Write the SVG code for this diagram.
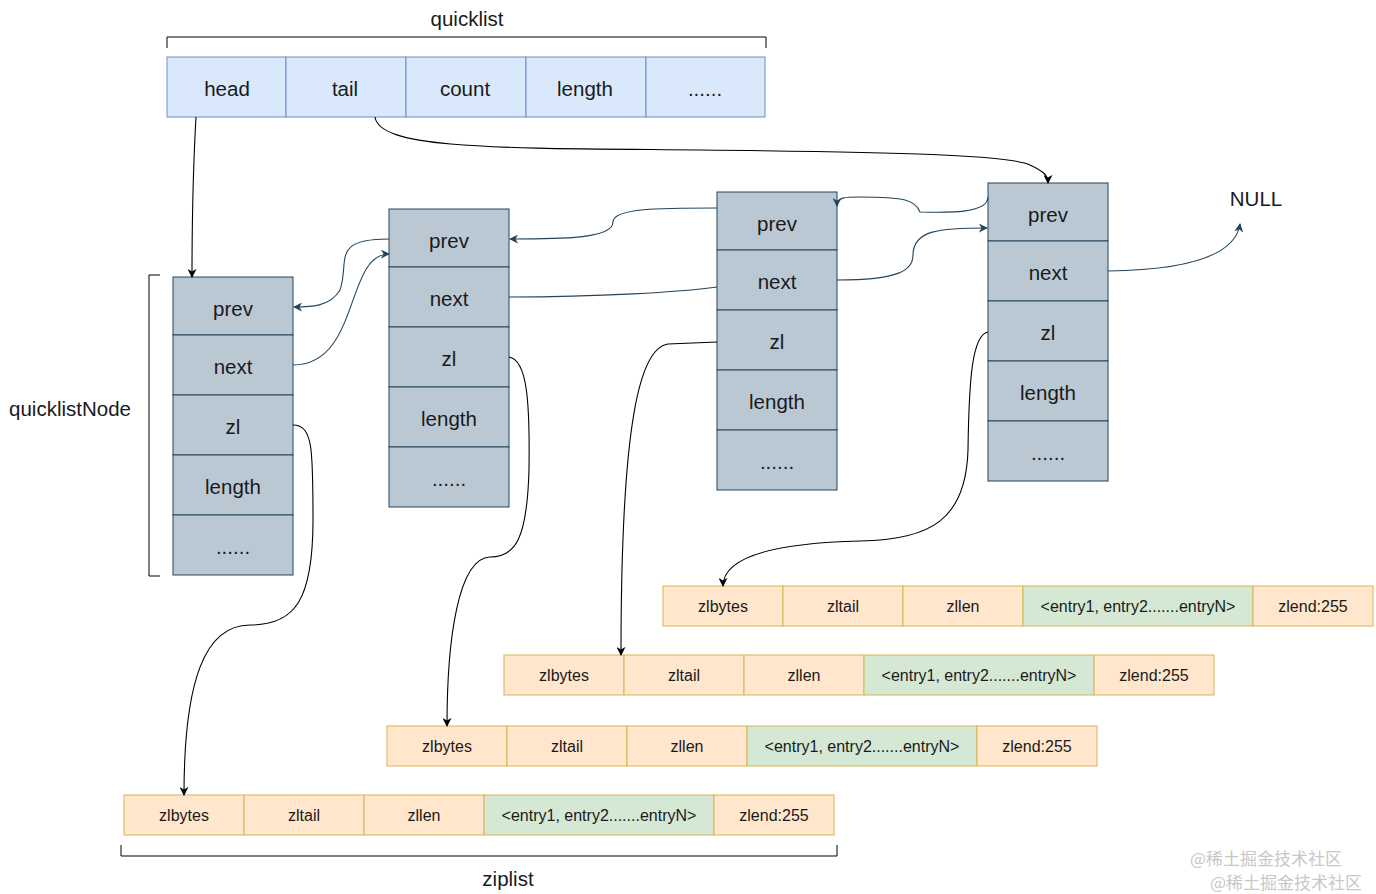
<svg xmlns="http://www.w3.org/2000/svg" width="1376" height="894" viewBox="0 0 1376 894">
<defs>
<marker id="ab" viewBox="0 0 10 10" refX="9" refY="5" markerWidth="9" markerHeight="9" markerUnits="userSpaceOnUse" orient="auto"><path d="M0,0 L10,5 L0,10 L3,5 Z" fill="#000"/></marker>
<marker id="ad" viewBox="0 0 10 10" refX="9" refY="5" markerWidth="9" markerHeight="9" markerUnits="userSpaceOnUse" orient="auto"><path d="M0,0 L10,5 L0,10 L3,5 Z" fill="#23445d"/></marker>
</defs>
<style>
text{font-family:"Liberation Sans",Arial,sans-serif;fill:#1a1a1a;text-anchor:middle;dominant-baseline:central}
.q{fill:#dae8fc;stroke:#6c8ebf;stroke-width:1}
.n{fill:#bac8d3;stroke:#23445d;stroke-width:1}
.z{fill:#ffe6cc;stroke:#d6b656;stroke-width:1}
.e{fill:#d5e8d4;stroke:#d6b656;stroke-width:1}
.t{font-size:20.5px}
.s{font-size:16px}
.br{fill:none;stroke:#000;stroke-width:1}
.cb{fill:none;stroke:#000;stroke-width:1.1}
.cd{fill:none;stroke:#23445d;stroke-width:1.1}
.wm{font-family:"Noto Sans CJK SC","Liberation Sans",sans-serif;font-size:17px;fill:#c8c8c8;text-anchor:start}
</style>
<rect width="1376" height="894" fill="#fff"/>

<g id="quicklist">
<text x="467" y="18" class="t">quicklist</text>
<path class="br" d="M167,48 V37 H766 V48"/>
<rect class="q" x="167" y="57" width="119" height="60"/>
<rect class="q" x="286" y="57" width="120" height="60"/>
<rect class="q" x="406" y="57" width="120" height="60"/>
<rect class="q" x="526" y="57" width="120" height="60"/>
<rect class="q" x="646" y="57" width="119" height="60"/>
<text x="227" y="88" class="t">head</text>
<text x="345" y="88" class="t">tail</text>
<text x="465" y="88" class="t">count</text>
<text x="585" y="88" class="t">length</text>
<text x="705" y="88" class="t">......</text>
</g>

<g id="node1">
<path class="br" d="M160,275 H149 V576 H160"/>
<text x="70" y="408" class="t">quicklistNode</text>
<rect class="n" x="173" y="277" width="120" height="58"/>
<rect class="n" x="173" y="335" width="120" height="60"/>
<rect class="n" x="173" y="395" width="120" height="60"/>
<rect class="n" x="173" y="455" width="120" height="60"/>
<rect class="n" x="173" y="515" width="120" height="60"/>
<text x="233" y="308" class="t">prev</text>
<text x="233" y="366" class="t">next</text>
<text x="233" y="426" class="t">zl</text>
<text x="233" y="486" class="t">length</text>
<text x="233" y="546" class="t">......</text>
</g>

<g id="node2">
<rect class="n" x="389" y="209" width="120" height="58"/>
<rect class="n" x="389" y="267" width="120" height="60"/>
<rect class="n" x="389" y="327" width="120" height="60"/>
<rect class="n" x="389" y="387" width="120" height="60"/>
<rect class="n" x="389" y="447" width="120" height="60"/>
<text x="449" y="240" class="t">prev</text>
<text x="449" y="298" class="t">next</text>
<text x="449" y="358" class="t">zl</text>
<text x="449" y="418" class="t">length</text>
<text x="449" y="478" class="t">......</text>
</g>

<g id="node3">
<rect class="n" x="717" y="192" width="120" height="58"/>
<rect class="n" x="717" y="250" width="120" height="60"/>
<rect class="n" x="717" y="310" width="120" height="60"/>
<rect class="n" x="717" y="370" width="120" height="60"/>
<rect class="n" x="717" y="430" width="120" height="60"/>
<text x="777" y="223" class="t">prev</text>
<text x="777" y="281" class="t">next</text>
<text x="777" y="341" class="t">zl</text>
<text x="777" y="401" class="t">length</text>
<text x="777" y="461" class="t">......</text>
</g>

<g id="node4">
<rect class="n" x="988" y="183" width="120" height="58"/>
<rect class="n" x="988" y="241" width="120" height="60"/>
<rect class="n" x="988" y="301" width="120" height="60"/>
<rect class="n" x="988" y="361" width="120" height="60"/>
<rect class="n" x="988" y="421" width="120" height="60"/>
<text x="1048" y="214" class="t">prev</text>
<text x="1048" y="272" class="t">next</text>
<text x="1048" y="332" class="t">zl</text>
<text x="1048" y="392" class="t">length</text>
<text x="1048" y="452" class="t">......</text>
</g>

<g id="null">
<text x="1256" y="198" class="t">NULL</text>
</g>

<g id="ziplist4">
<rect class="z" x="663" y="586" width="120" height="40"/>
<rect class="z" x="783" y="586" width="120" height="40"/>
<rect class="z" x="903" y="586" width="120" height="40"/>
<rect class="e" x="1023" y="586" width="230" height="40"/>
<rect class="z" x="1253" y="586" width="120" height="40"/>
<text x="723" y="606" class="s">zlbytes</text>
<text x="843" y="606" class="s">zltail</text>
<text x="963" y="606" class="s">zllen</text>
<text x="1138" y="606" class="s">&lt;entry1, entry2.......entryN&gt;</text>
<text x="1313" y="606" class="s">zlend:255</text>
</g>

<g id="ziplist3">
<rect class="z" x="504" y="655" width="120" height="40"/>
<rect class="z" x="624" y="655" width="120" height="40"/>
<rect class="z" x="744" y="655" width="120" height="40"/>
<rect class="e" x="864" y="655" width="230" height="40"/>
<rect class="z" x="1094" y="655" width="120" height="40"/>
<text x="564" y="675" class="s">zlbytes</text>
<text x="684" y="675" class="s">zltail</text>
<text x="804" y="675" class="s">zllen</text>
<text x="979" y="675" class="s">&lt;entry1, entry2.......entryN&gt;</text>
<text x="1154" y="675" class="s">zlend:255</text>
</g>

<g id="ziplist2">
<rect class="z" x="387" y="726" width="120" height="40"/>
<rect class="z" x="507" y="726" width="120" height="40"/>
<rect class="z" x="627" y="726" width="120" height="40"/>
<rect class="e" x="747" y="726" width="230" height="40"/>
<rect class="z" x="977" y="726" width="120" height="40"/>
<text x="447" y="746" class="s">zlbytes</text>
<text x="567" y="746" class="s">zltail</text>
<text x="687" y="746" class="s">zllen</text>
<text x="862" y="746" class="s">&lt;entry1, entry2.......entryN&gt;</text>
<text x="1037" y="746" class="s">zlend:255</text>
</g>

<g id="ziplist1">
<rect class="z" x="124" y="795" width="120" height="40"/>
<rect class="z" x="244" y="795" width="120" height="40"/>
<rect class="z" x="364" y="795" width="120" height="40"/>
<rect class="e" x="484" y="795" width="230" height="40"/>
<rect class="z" x="714" y="795" width="120" height="40"/>
<text x="184" y="815" class="s">zlbytes</text>
<text x="304" y="815" class="s">zltail</text>
<text x="424" y="815" class="s">zllen</text>
<text x="599" y="815" class="s">&lt;entry1, entry2.......entryN&gt;</text>
<text x="774" y="815" class="s">zlend:255</text>
<path class="br" d="M121,845 V856 H837 V845"/>
<text x="508" y="878" class="t">ziplist</text>
</g>

<g id="connectors">
<path class="cb" marker-end="url(#ab)" d="M196,117 C193,170 192,220 192,277"/>
<path class="cb" marker-end="url(#ab)" d="M375,117 C380,150 500,148 700,150 C900,152 1010,155 1030,165 C1045,172 1048,176 1048,183"/>
<path class="cd" marker-end="url(#ad)" d="M293,365 C360,365 345,254 389,254"/>
<path class="cd" marker-end="url(#ad)" d="M389,239 C330,239 350,261 340,290 C330,307 310,307 294,307"/>
<path class="cd" marker-end="url(#ad)" d="M717,208 C660,208 613,208 613,222 C613,239 560,239 510,239"/>
<path class="cd" d="M509,297 C600,297 680,292 717,287"/>
<path class="cd" marker-end="url(#ad)" d="M988,197 C988,213 950,213 920,212 C915,200 905,197 860,197 C845,197 837,197 837,206"/>
<path class="cd" marker-end="url(#ad)" d="M837,280 C900,280 913,270 913,255 C913,230 940,228 987,228"/>
<path class="cd" marker-end="url(#ad)" d="M1108,271 C1180,270 1235,258 1240,224"/>
<path class="cb" marker-end="url(#ab)" d="M293,425 C313,425 313,450 313,520 C313,600 295,625 250,625 C205,625 184,680 184,795"/>
<path class="cb" marker-end="url(#ab)" d="M509,357 C527,360 530,400 529,470 C527,540 515,557 490,557 C458,558 447,640 447,726"/>
<path class="cb" marker-end="url(#ab)" d="M717,342 L668,344 C640,348 621,420 621,655"/>
<path class="cb" marker-end="url(#ab)" d="M988,332 C972,335 969,380 968,450 C966,520 930,540 860,541 C780,543 723,555 723,586"/>
</g>

<g id="watermark">
<text x="1190" y="857" class="wm">@稀土掘金技术社区</text>
<text x="1210" y="881" class="wm">@稀土掘金技术社区</text>
</g>
</svg>
